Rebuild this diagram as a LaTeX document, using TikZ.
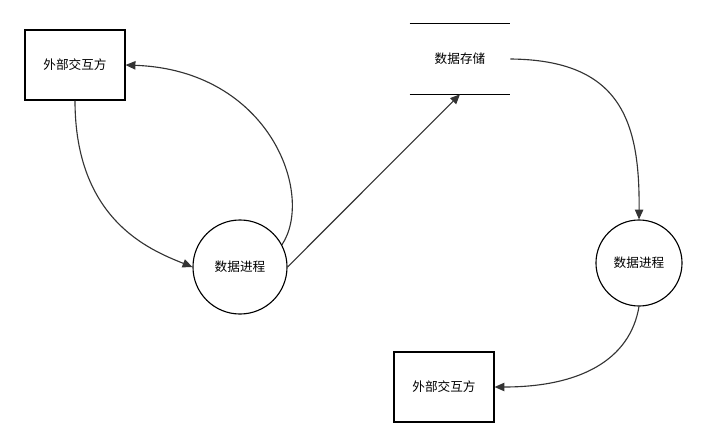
\documentclass[tikz,border=0pt]{standalone}
\usepackage{fontspec}
\setmainfont{Noto Sans CJK SC}
\usetikzlibrary{arrows.meta, positioning}

\begin{document}
\begin{tikzpicture}[x=0.025cm, y=-0.025cm,
    entity/.style={draw, thick, minimum width=2.5cm, minimum height=1.75cm, font=\small},
    process/.style={draw, thick, circle, minimum size=2.35cm, inner sep=0pt, font=\small},
    flow/.style={thick, draw=black!80, -{Triangle[length=7pt, width=6pt]}}]
    \useasboundingbox (0,0) rectangle (706,447);

    % external parties
    \node[entity] (ext1) at (75,65) {外部交互方};
    \node[entity] (ext2) at (444,387) {外部交互方};

    % processes
    \node[process] (proc1) at (240,267) {数据进程};
    \node[process, minimum size=2.15cm] (proc2) at (639,263) {数据进程};

    % data store
    \node[minimum width=2.5cm, minimum height=1.75cm, font=\small] (store) at (460,59) {数据存储};
    \draw[thick] (store.north west) -- (store.north east);
    \draw[thick] (store.south west) -- (store.south east);

    % flows
    \draw[flow] (ext1.south) .. controls (75,220) and (150,250) .. (proc1.west);
    \draw[flow] (proc1.28) .. controls (315,195) and (270,70) .. (ext1.east);
    \draw[flow] (proc1.east) -- (store.south);
    \draw[flow] (store.east) .. controls (620,60) and (640,120) .. (proc2.north);
    \draw[flow] (proc2.south) .. controls (630,360) and (580,387) .. (ext2.east);
\end{tikzpicture}
\end{document}
